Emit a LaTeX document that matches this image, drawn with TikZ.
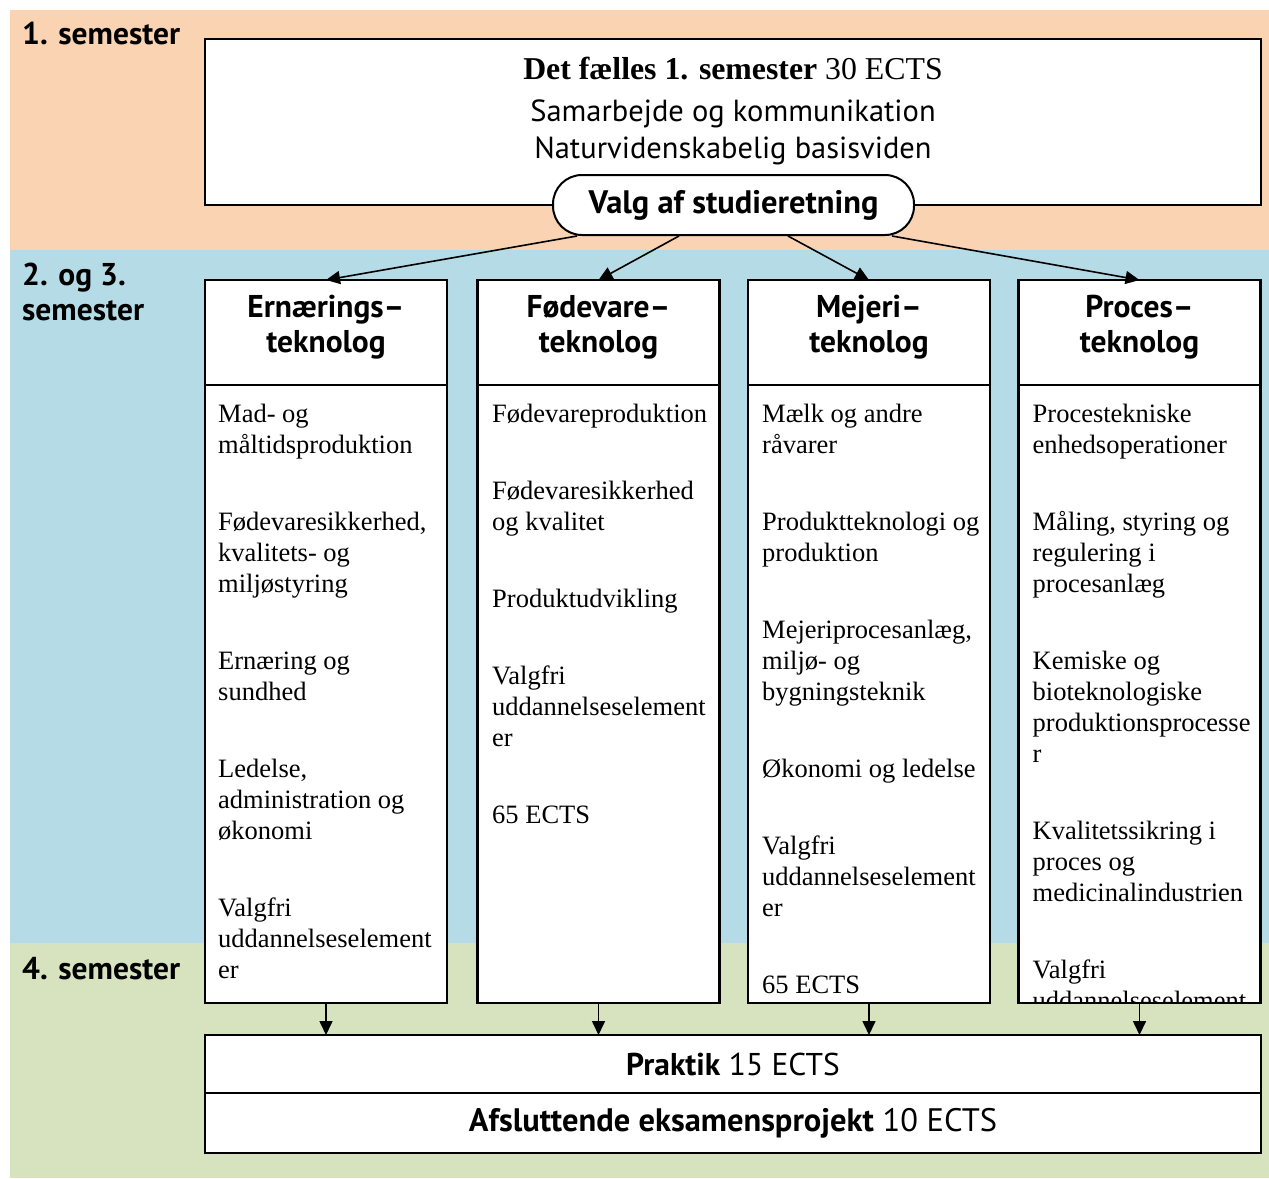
\documentclass[tikz,border=0pt]{standalone}
\usepackage{fontspec}
\setmainfont{Liberation Serif}
\setsansfont{PT Sans}
\usetikzlibrary{arrows.meta,positioning}
\definecolor{fersken}{HTML}{FAD3B3}
\definecolor{blaa}{HTML}{B5DCE6}
\definecolor{groen}{HTML}{D7E3BE}

\begin{document}
\begin{tikzpicture}[x=1pt,y=-1pt,
    boks/.style={draw,line width=2.5pt,fill=white,outer sep=0pt},
    hoved/.style={boks,minimum width=242pt,minimum height=105pt,align=center,
      text depth=17pt,font=\sffamily\bfseries\fontsize{31.5}{35}\selectfont},
    krop/.style={boks,minimum width=242pt,minimum height=618pt},
    fag/.style={anchor=north west,inner sep=0pt,align=left,
      font=\fontsize{26.5}{31}\selectfont},
    sem/.style={anchor=base west,inner sep=0pt,align=left,
      font=\sffamily\bfseries\fontsize{31.5}{35}\selectfont},
    pil/.style={-{Triangle[length=14pt,width=13pt]},line width=1.6pt}]
  \useasboundingbox (0,0) rectangle (1269,1178);
  % baggrund
  \fill[fersken] (10,10) rectangle (1269,250);
  \fill[blaa] (10,250) rectangle (1269,943);
  \fill[groen] (10,943) rectangle (1269,1178);
  \node[sem] (s1) at (22,44) {1. semester};
  \node[sem] (s2) at (22,320) {2. og 3.\\semester};
  \node[sem] (s4) at (22,979) {4. semester};

  % 1. semester
  \node[boks,minimum width=1056pt,minimum height=166pt] (faelles) at (733,122) {};
  \node[anchor=base,font=\fontsize{31.8}{35}\selectfont] (titel) at (733,79)
    {\textbf{Det fælles 1. semester} 30 ECTS};
  \node[anchor=base,font=\sffamily\fontsize{30.5}{35}\selectfont] (linje1) at (733,121)
    {Samarbejde og kommunikation};
  \node[anchor=base,font=\sffamily\fontsize{30.5}{35}\selectfont] (linje2) at (733,158)
    {Naturvidenskabelig basisviden};
  \node[draw,line width=2pt,fill=white,rounded corners=29pt,minimum width=361pt,
    minimum height=60pt,font=\sffamily\bfseries\fontsize{32.5}{35}\selectfont]
    (valg) at (733.5,205) {Valg af studieretning};

  % studieretninger
  \foreach \i/\x/\navn in {1/326/Ernærings,2/598.5/Fødevare,3/869/Mejeri,4/1139.5/Proces}{
    \node[hoved] (h\i) at (\x,332.5) {\navn–\\teknolog};
    \node[krop,below=0pt of h\i] (k\i) {};
  }
  \draw[pil] ([xshift=25pt]valg.south west) -- (h1.north);
  \draw[pil] ([xshift=127pt]valg.south west) -- (h2.north);
  \draw[pil] ([xshift=-127pt]valg.south east) -- (h3.north);
  \draw[pil] ([xshift=-23pt]valg.south east) -- (h4.north);

  \node[fag] (t1) at ([xshift=13pt,yshift=-18.5pt]k1.north west)
    {Mad- og\\måltidsproduktion\\[46pt]
     Fødevaresikkerhed,\\kvalitets- og\\miljøstyring\\[46pt]
     Ernæring og\\sundhed\\[46pt]
     Ledelse,\\administration og\\økonomi\\[46pt]
     Valgfri\\uddannelseselement\\er};
  \node[fag] (t2) at ([xshift=14.5pt,yshift=-18.5pt]k2.north west)
    {Fødevareproduktion\\[46pt]
     Fødevaresikkerhed\\og kvalitet\\[46pt]
     Produktudvikling\\[46pt]
     Valgfri\\uddannelseselement\\er\\[46pt]
     65 ECTS};
  \node[fag] (t3) at ([xshift=14pt,yshift=-18.5pt]k3.north west)
    {Mælk og andre\\råvarer\\[46pt]
     Produktteknologi og\\produktion\\[46pt]
     Mejeriprocesanlæg,\\miljø- og\\bygningsteknik\\[46pt]
     Økonomi og ledelse\\[46pt]
     Valgfri\\uddannelseselement\\er\\[46pt]
     65 ECTS};
  \begin{scope}
    \clip (k4.north west) rectangle ([yshift=1.25pt]k4.south east);
    \node[fag] (t4) at ([xshift=14pt,yshift=-18.5pt]k4.north west)
      {Procestekniske\\enhedsoperationer\\[46pt]
       Måling, styring og\\regulering i\\procesanlæg\\[46pt]
       Kemiske og\\bioteknologiske\\produktionsprocesse\\r\\[46pt]
       Kvalitetssikring i\\proces og\\medicinalindustrien\\[46pt]
       Valgfri\\uddannelseselement\\er};
  \end{scope}

  % 4. semester
  \node[boks,minimum width=1056pt,minimum height=58pt,
    font=\sffamily\fontsize{31.5}{35}\selectfont] (praktik) at (733,1064)
    {\textbf{Praktik} 15 ECTS};
  \node[boks,minimum width=1056pt,minimum height=60pt,below=0pt of praktik,
    font=\sffamily\fontsize{32.5}{35}\selectfont] (projekt)
    {\textbf{Afsluttende eksamensprojekt} 10 ECTS};
  \foreach \i in {1,2,3,4}
    \draw[pil] (k\i.south) -- (k\i.south |- praktik.north);
\end{tikzpicture}
\end{document}
